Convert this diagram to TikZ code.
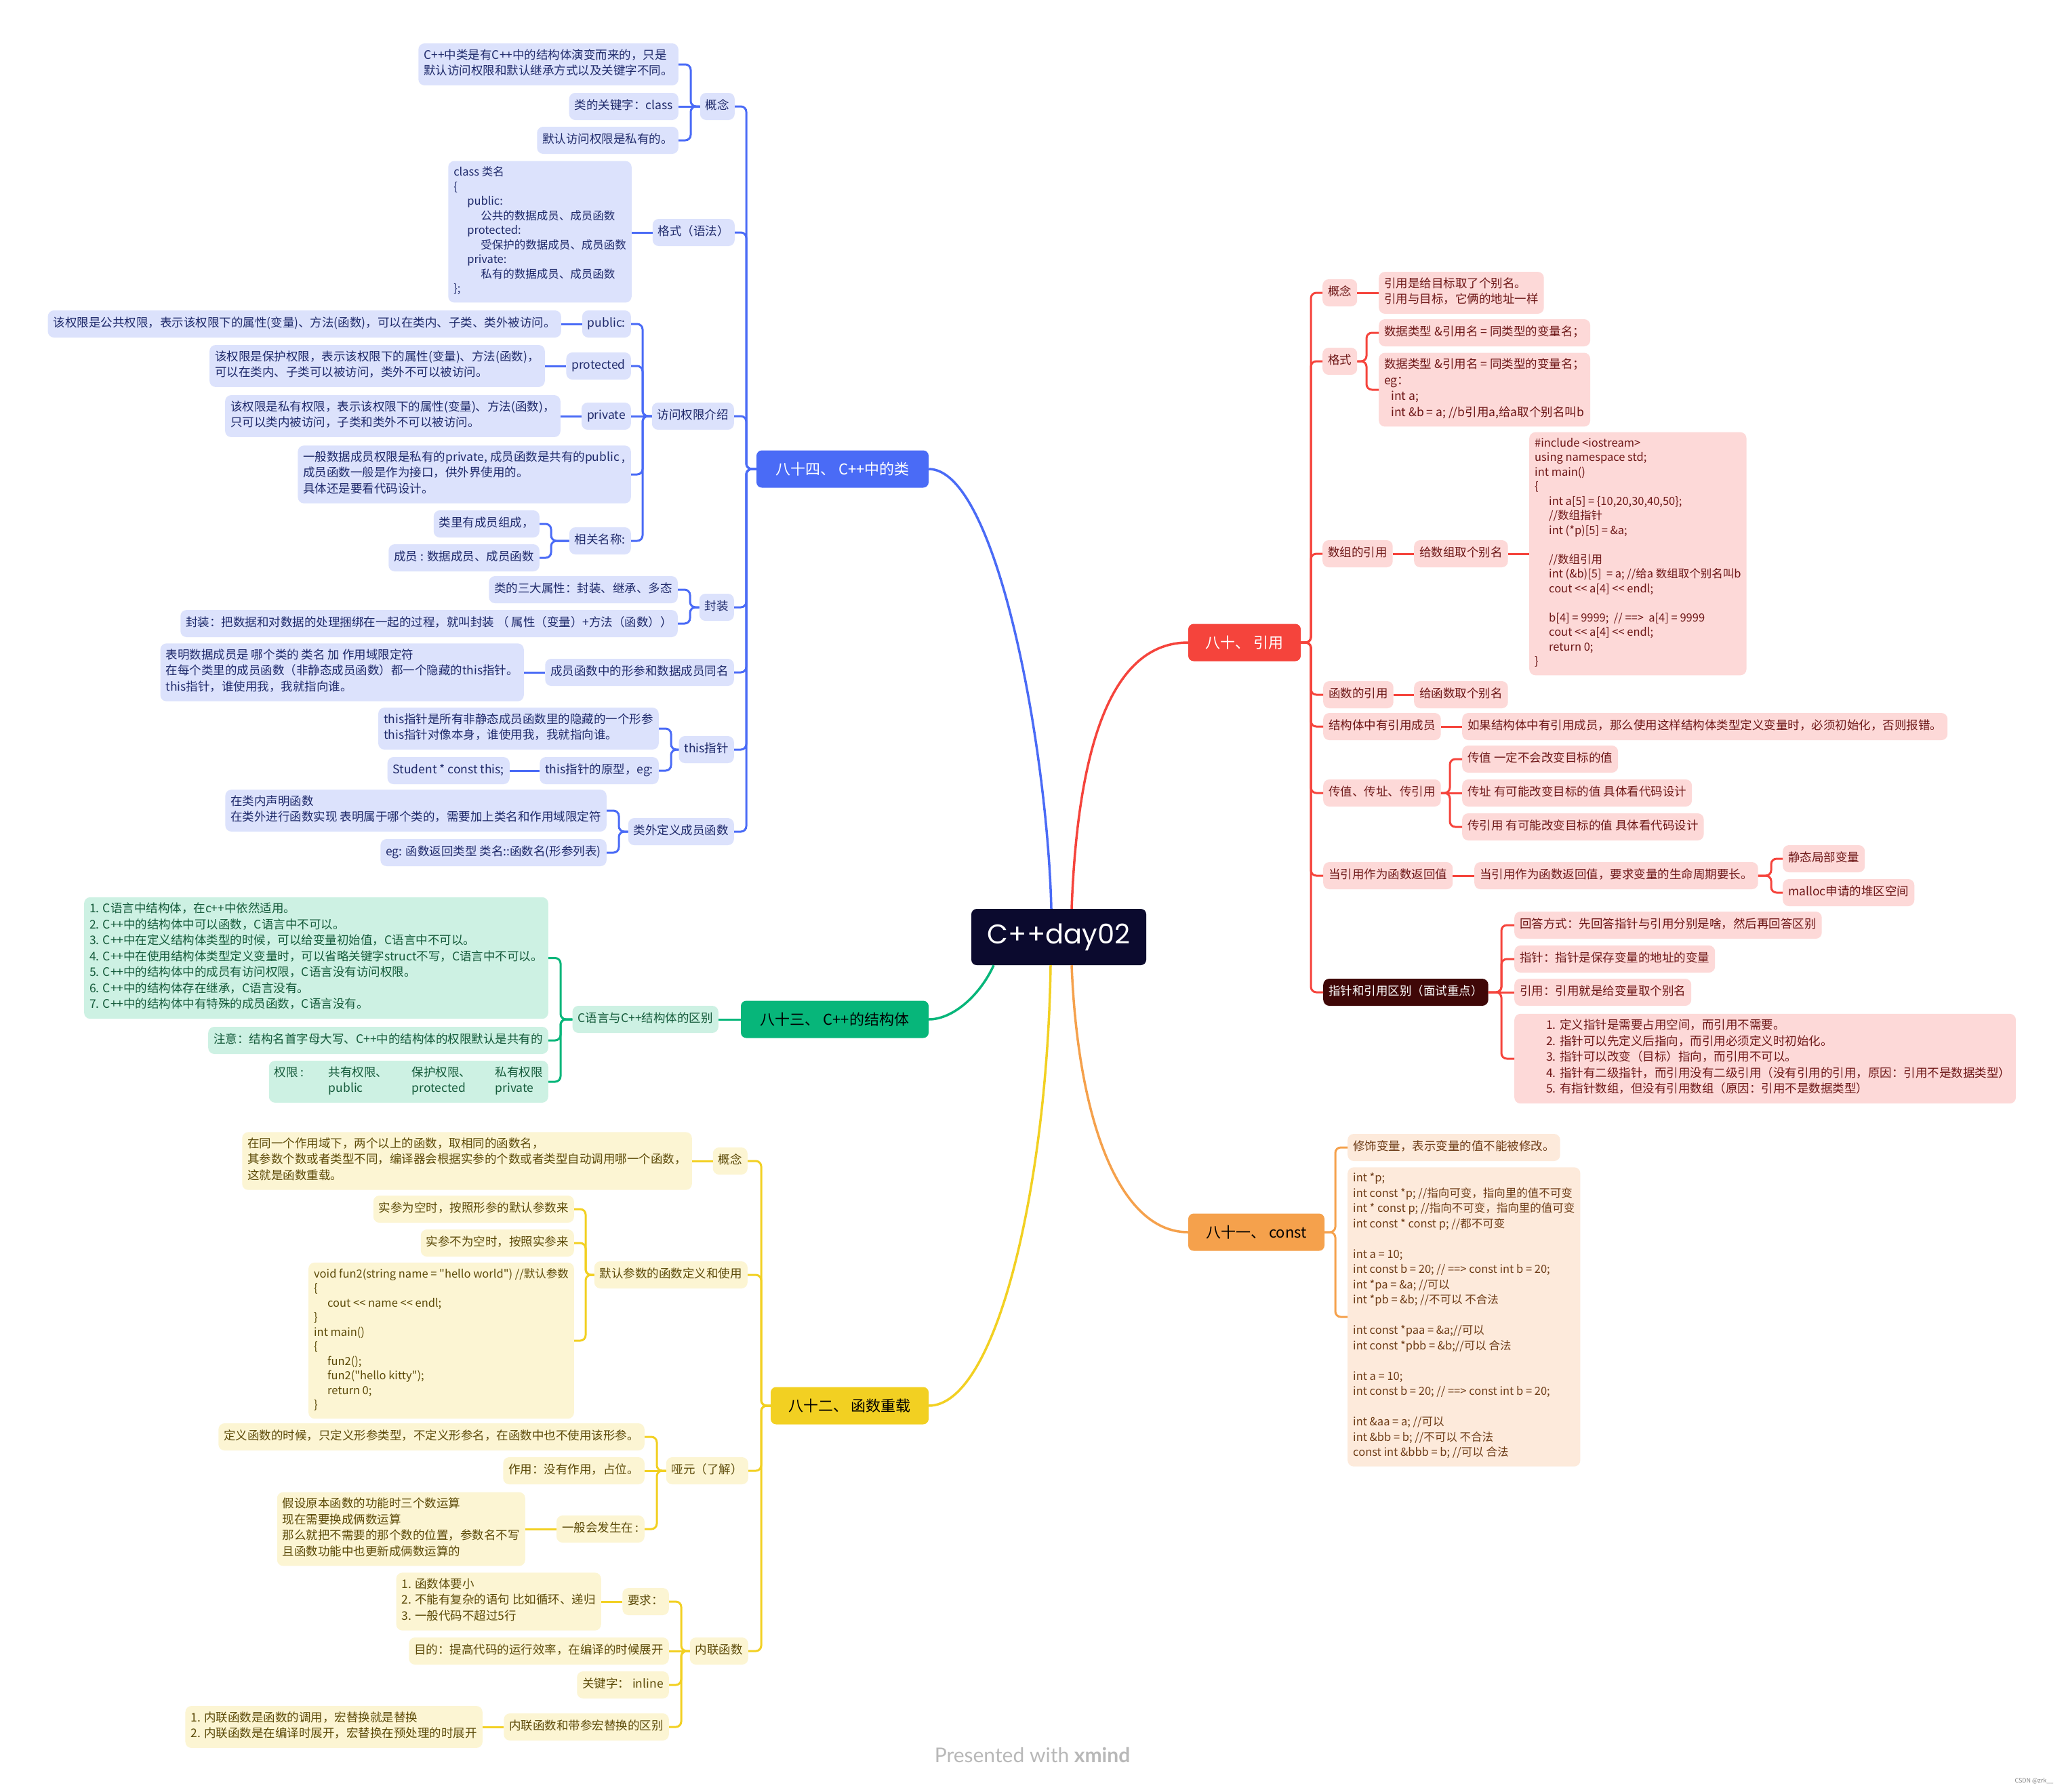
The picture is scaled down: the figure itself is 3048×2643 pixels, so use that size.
\documentclass[tikz,border=0pt]{standalone}
\usepackage{fontspec}
\setmainfont{Noto Sans CJK SC}
\newfontfamily\cjkfont{Noto Sans CJK SC}
\newfontfamily\rootfont{Poppins}
\newfontfamily\wmfont{Lato}
\definecolor{bmain}{HTML}{4A6BF6}
\definecolor{bfill}{HTML}{DCE2FC}
\definecolor{btext}{HTML}{1F2A6B}
\definecolor{gmain}{HTML}{07B67A}
\definecolor{gfill}{HTML}{CDF1E3}
\definecolor{gtext}{HTML}{145A3A}
\definecolor{ymain}{HTML}{F2D022}
\definecolor{yfill}{HTML}{FCF5D3}
\definecolor{ytext}{HTML}{5C4A08}
\definecolor{rmain}{HTML}{F5443C}
\definecolor{rfill}{HTML}{FDD9D8}
\definecolor{rtext}{HTML}{6E1717}
\definecolor{omain}{HTML}{F5A14C}
\definecolor{ofill}{HTML}{FDEADB}
\definecolor{otext}{HTML}{6E3C17}
\definecolor{rootc}{HTML}{0B0A2E}
\definecolor{zzdark}{HTML}{3F0707}
\newcommand\Lcon[4]{\draw[#1] (#2.west) -- (#3,0 |- #2.west) |- (#4.east);}
\newcommand\Rcon[4]{\draw[#1] (#2.east) -- (#3,0 |- #2.east) |- (#4.west);}
\newcommand\Lstr[3]{\draw[#1] (#2.west) -- (#3.east |- #2.west);}
\newcommand\Rstr[3]{\draw[#1] (#2.east) -- (#3.west |- #2.east);}
\begin{document}
\begin{tikzpicture}[x=1pt,y=-1pt,
  box/.style={rounded corners=9pt, inner xsep=8pt, inner ysep=8.25pt, align=left,
    font=\cjkfont\fontsize{17.5}{23.5}\selectfont, execute at begin node=\strut, execute at end node=\strut},
  bb/.style={box, fill=bfill, text=btext},
  gb/.style={box, fill=gfill, text=gtext},
  yb/.style={box, fill=yfill, text=ytext},
  rb/.style={box, fill=rfill, text=rtext},
  ob/.style={box, fill=ofill, text=otext},
  code/.style={font=\cjkfont\fontsize{16.5}{21.5}\selectfont},
  codeb/.style={font=\cjkfont\fontsize{16.5}{22.5}\selectfont},
  mbox/.style={rounded corners=8pt, minimum height=55pt, inner sep=0pt, font=\cjkfont\fontsize{22}{26}\selectfont},
  bl/.style={draw=bmain, line width=3pt, rounded corners=8pt},
  gl/.style={draw=gmain, line width=3pt, rounded corners=8pt},
  yl/.style={draw=ymain, line width=3pt, rounded corners=8pt},
  rl/.style={draw=rmain, line width=3pt, rounded corners=8pt},
  ol/.style={draw=omain, line width=3pt, rounded corners=8pt},
  curve/.style={line width=3.5pt}
]
\useasboundingbox[fill=white] (0,0) rectangle (3048,2643);

% ---------------- root
\node[fill=rootc, rounded corners=8pt, minimum width=258pt, minimum height=83pt, inner sep=0pt,
  text=white, font=\rootfont\fontsize{40}{44}\selectfont] (root) at (1562,1382.5) {C++day02};

% ---------------- main branches
\node[mbox, fill=bmain, text=white, minimum width=254pt] (b84) at (1243,692) {八十四、 C++中的类};
\node[mbox, fill=gmain, text=black, minimum width=277pt] (g83) at (1231.5,1504) {八十三、 C++的结构体};
\node[mbox, fill=ymain, text=black, minimum width=233pt] (y82) at (1253.5,2074) {八十二、 函数重载};
\node[mbox, fill=rmain, text=white, minimum width=166pt] (r80) at (1836,948) {八十、 引用};
\node[mbox, fill=omain, text=black, minimum width=201pt] (o81) at (1853.5,1818) {八十一、 const};

\draw[curve, bmain] (b84.east) .. controls (1470,692) and (1545,1100) .. (1551,0 |- root.north);
\draw[curve, rmain] (1581,0 |- root.north) .. controls (1590,1100) and (1640,948) .. (r80.west);
\draw[curve, gmain] (1466,0 |- root.south) .. controls (1445,1470) and (1405,1504) .. (g83.east);
\draw[curve, ymain] (1550,0 |- root.south) .. controls (1545,1750) and (1470,2074) .. (y82.east);
\draw[curve, omain] (1581,0 |- root.south) .. controls (1590,1650) and (1650,1818) .. (o81.west);

% ---------------- blue branch
\node[bb, anchor=east] (bgn) at (1084,157) {概念};
\node[bb, anchor=east] (bgn1) at (1001,95) {C++中类是有C++中的结构体演变而来的，只是\\默认访问权限和默认继承方式以及关键字不同。};
\node[bb, anchor=east] (bgn2) at (1001,157) {类的关键字：class};
\node[bb, anchor=east] (bgn3) at (1001,207) {默认访问权限是私有的。};
\node[bb, anchor=east] (bgs) at (1084,343) {格式（语法）};
\node[bb, code, anchor=east] (bgs1) at (932,342) {class 类名\\\{\\\hspace*{20pt}public:\\\hspace*{40pt}公共的数据成员、成员函数\\\hspace*{20pt}protected:\\\hspace*{40pt}受保护的数据成员、成员函数\\\hspace*{20pt}private:\\\hspace*{40pt}私有的数据成员、成员函数\\\};};
\node[bb, anchor=east] (bfw) at (1083,614) {访问权限介绍};
\node[bb, anchor=east] (bpub) at (931,478) {public:};
\node[bb, anchor=east] (bpub1) at (828,478) {该权限是公共权限，表示该权限下的属性(变量)、方法(函数)，可以在类内、子类、类外被访问。};
\node[bb, anchor=east] (bpro) at (931,540) {protected};
\node[bb, anchor=east] (bpro1) at (804,540) {该权限是保护权限，表示该权限下的属性(变量)、方法(函数)，\\可以在类内、子类可以被访问，类外不可以被访问。};
\node[bb, anchor=east] (bpri) at (931,614) {private};
\node[bb, anchor=east] (bpri1) at (827,614) {该权限是私有权限，表示该权限下的属性(变量)、方法(函数)，\\只可以类内被访问，子类和类外不可以被访问。};
\node[bb, anchor=east] (bgen) at (931,700) {一般数据成员权限是私有的private, 成员函数是共有的public ,\\成员函数一般是作为接口，供外界使用的。\\具体还是要看代码设计。};
\node[bb, anchor=east] (bxg) at (931,798) {相关名称:};
\node[bb, anchor=east] (bxg1) at (796,773) {类里有成员组成，};
\node[bb, anchor=east] (bxg2) at (796,823) {成员 : 数据成员、成员函数};
\node[bb, anchor=east] (bfz) at (1083,896) {封装};
\node[bb, anchor=east] (bfz1) at (1000,870) {类的三大属性：封装、继承、多态};
\node[bb, anchor=east] (bfz2) at (1000,920) {封装：把数据和对数据的处理捆绑在一起的过程，就叫封装 （ 属性（变量）+方法（函数））};
\node[bb, anchor=east] (btm) at (1083,992) {成员函数中的形参和数据成员同名};
\node[bb, anchor=east] (btm1) at (773,992) {表明数据成员是 哪个类的 类名 加 作用域限定符\\在每个类里的成员函数（非静态成员函数）都一个隐藏的this指针。\\this指针，谁使用我，我就指向谁。};
\node[bb, anchor=east] (bth) at (1083,1106) {this指针};
\node[bb, anchor=east] (bth1) at (972,1075) {this指针是所有非静态成员函数里的隐藏的一个形参\\this指针对像本身，谁使用我，我就指向谁。};
\node[bb, anchor=east] (bth2) at (972,1137) {this指针的原型，eg:};
\node[bb, anchor=east] (bth3) at (752,1137) {Student * const this;};
\node[bb, anchor=east] (blw) at (1083,1227) {类外定义成员函数};
\node[bb, anchor=east] (blw1) at (895,1196) {在类内声明函数\\在类外进行函数实现 表明属于哪个类的，需要加上类名和作用域限定符};
\node[bb, anchor=east] (blw2) at (895,1258) {eg: 函数返回类型 类名::函数名(形参列表)};

\foreach \c in {bgn,bgs,bfw,bfz,btm,bth,blw} {\Lcon{bl}{b84}{1101}{\c}}
\Lcon{bl}{bgn}{1019}{bgn1}
\Lstr{bl}{bgn}{bgn2}
\Lcon{bl}{bgn}{1019}{bgn3}
\Lstr{bl}{bgs}{bgs1}
\Lcon{bl}{bfw}{948}{bpub}
\Lcon{bl}{bfw}{948}{bpro}
\Lstr{bl}{bfw}{bpri}
\Lcon{bl}{bfw}{948}{bgen}
\Lcon{bl}{bfw}{948}{bxg}
\Lstr{bl}{bpub}{bpub1}
\Lstr{bl}{bpro}{bpro1}
\Lstr{bl}{bpri}{bpri1}
\Lcon{bl}{bxg}{813}{bxg1}
\Lcon{bl}{bxg}{813}{bxg2}
\Lcon{bl}{bfz}{1018}{bfz1}
\Lcon{bl}{bfz}{1018}{bfz2}
\Lstr{bl}{btm}{btm1}
\Lcon{bl}{bth}{990}{bth1}
\Lcon{bl}{bth}{990}{bth2}
\Lstr{bl}{bth2}{bth3}
\Lcon{bl}{blw}{913}{blw1}
\Lcon{bl}{blw}{913}{blw2}

% ---------------- green branch
\node[gb, anchor=east] (gqb) at (1060,1504) {C语言与C++结构体的区别};
\node[gb, anchor=east] (g1) at (809,1413.5) {1. C语言中结构体，在c++中依然适用。\\2. C++中的结构体中可以函数，C语言中不可以。\\3. C++中在定义结构体类型的时候，可以给变量初始值，C语言中不可以。\\4. C++中在使用结构体类型定义变量时，可以省略关键字struct不写，C语言中不可以。\\5. C++中的结构体中的成员有访问权限，C语言没有访问权限。\\6. C++中的结构体存在继承，C语言没有。\\7. C++中的结构体中有特殊的成员函数，C语言没有。};
\node[gb, anchor=east] (g2) at (809,1535) {注意：结构名首字母大写、C++中的结构体的权限默认是共有的};
\node[gb, anchor=east] (g3) at (809,1596) {\makebox[80pt][l]{权限 :}\makebox[123pt][l]{共有权限、}\makebox[123pt][l]{保护权限、}私有权限\\\makebox[80pt]{}\makebox[123pt][l]{public}\makebox[123pt][l]{protected}private};
\Lstr{gl}{g83}{gqb}
\Lcon{gl}{gqb}{827}{g1}
\Lcon{gl}{gqb}{827}{g2}
\Lcon{gl}{gqb}{827}{g3}

% ---------------- yellow branch
\node[yb, anchor=east] (ygn) at (1103,1713) {概念};
\node[yb, anchor=east] (ygn1) at (1021,1713) {在同一个作用域下，两个以上的函数，取相同的函数名，\\其参数个数或者类型不同，编译器会根据实参的个数或者类型自动调用哪一个函数，\\这就是函数重载。};
\node[yb, anchor=east] (ymr) at (1103,1881) {默认参数的函数定义和使用};
\node[yb, anchor=east] (ymr1) at (847,1784) {实参为空时，按照形参的默认参数来};
\node[yb, anchor=east] (ymr2) at (847,1834) {实参不为空时，按照实参来};
\node[yb, code, anchor=east] (ymr3) at (847,1978) {void fun2(string name = "hello world") //默认参数\\\{\\\hspace*{20pt}cout <\kern0pt< name <\kern0pt< endl;\\\}\\int main()\\\{\\\hspace*{20pt}fun2();\\\hspace*{20pt}fun2("hello kitty");\\\hspace*{20pt}return 0;\\\}};
\node[yb, anchor=east] (yya) at (1104,2170) {哑元（了解）};
\node[yb, anchor=east] (yya1) at (951,2120) {定义函数的时候，只定义形参类型，不定义形参名，在函数中也不使用该形参。};
\node[yb, anchor=east] (yya2) at (951,2170) {作用：没有作用，占位。};
\node[yb, anchor=east] (yya3) at (951,2256) {一般会发生在 :};
\node[yb, anchor=east] (yya4) at (775,2256) {假设原本函数的功能时三个数运算\\现在需要换成俩数运算\\那么就把不需要的那个数的位置，参数名不写\\且函数功能中也更新成俩数运算的};
\node[yb, anchor=east] (ynl) at (1104,2436) {内联函数};
\node[yb, anchor=east] (ynl1) at (987,2363) {要求：};
\node[yb, anchor=east] (ynl1a) at (887,2363) {1. 函数体要小\\2. 不能有复杂的语句 比如循环、递归\\3. 一般代码不超过5行};
\node[yb, anchor=east] (ynl2) at (987,2436) {目的：提高代码的运行效率，在编译的时候展开};
\node[yb, anchor=east] (ynl3) at (987,2486) {关键字： inline};
\node[yb, anchor=east] (ynl4) at (987,2548) {内联函数和带参宏替换的区别};
\node[yb, anchor=east] (ynl4a) at (712,2548) {1. 内联函数是函数的调用，宏替换就是替换\\2. 内联函数是在编译时展开，宏替换在预处理的时展开};

\foreach \c in {ygn,ymr,yya,ynl} {\Lcon{yl}{y82}{1123}{\c}}
\Lstr{yl}{ygn}{ygn1}
\Lcon{yl}{ymr}{864}{ymr1}
\Lcon{yl}{ymr}{864}{ymr2}
\Lcon{yl}{ymr}{864}{ymr3}
\Lcon{yl}{yya}{969}{yya1}
\Lstr{yl}{yya}{yya2}
\Lcon{yl}{yya}{969}{yya3}
\Lstr{yl}{yya3}{yya4}
\Lcon{yl}{ynl}{1005}{ynl1}
\Lstr{yl}{ynl}{ynl2}
\Lcon{yl}{ynl}{1005}{ynl3}
\Lcon{yl}{ynl}{1005}{ynl4}
\Lstr{yl}{ynl1}{ynl1a}
\Lstr{yl}{ynl4}{ynl4a}

% ---------------- red branch
\node[rb, anchor=west] (rgn) at (1951,432) {概念};
\node[rb, anchor=west] (rgn1) at (2034,432) {引用是给目标取了个别名。\\引用与目标，它俩的地址一样};
\node[rb, anchor=west] (rgs) at (1951,533) {格式};
\node[rb, anchor=west] (rgs1) at (2034,491) {数据类型 \&引用名 = 同类型的变量名；};
\node[rb, anchor=west] (rgs2) at (2034,575) {数据类型 \&引用名 = 同类型的变量名；\\eg：\\\hspace*{10pt}int a;\\\hspace*{10pt}int \&b = a; //b引用a,给a取个别名叫b};
\node[rb, anchor=west] (rsz) at (1951,817) {数组的引用};
\node[rb, anchor=west] (rsz1) at (2086,817) {给数组取个别名};
\node[rb, code, anchor=west] (rsz2) at (2256,817) {\#include <iostream>\\using namespace std;\\int main()\\\{\\\hspace*{21pt}int a[5] = \{10,20,30,40,50\};\\\hspace*{21pt}//数组指针\\\hspace*{21pt}int (*p)[5] = \&a;\\\mbox{}\\\hspace*{21pt}//数组引用\\\hspace*{21pt}int (\&b)[5] \ = a; //给a 数组取个别名叫b\\\hspace*{21pt}cout <\kern0pt< a[4] <\kern0pt< endl;\\\mbox{}\\\hspace*{21pt}b[4] = 9999; \ // ==> \ a[4] = 9999\\\hspace*{21pt}cout <\kern0pt< a[4] <\kern0pt< endl;\\\hspace*{21pt}return 0;\\\}};
\node[rb, anchor=west] (rhs) at (1952,1025) {函数的引用};
\node[rb, anchor=west] (rhs1) at (2086,1025) {给函数取个别名};
\node[rb, anchor=west] (rjg) at (1952,1072) {结构体中有引用成员};
\node[rb, anchor=west] (rjg1) at (2157,1072) {如果结构体中有引用成员，那么使用这样结构体类型定义变量时，必须初始化，否则报错。};
\node[rb, anchor=west] (rcz) at (1952,1170) {传值、传址、传引用};
\node[rb, anchor=west] (rcz1) at (2157,1120) {传值 一定不会改变目标的值};
\node[rb, anchor=west] (rcz2) at (2157,1170) {传址 有可能改变目标的值 具体看代码设计};
\node[rb, anchor=west] (rcz3) at (2157,1220) {传引用 有可能改变目标的值 具体看代码设计};
\node[rb, anchor=west] (rfh) at (1952,1292) {当引用作为函数返回值};
\node[rb, anchor=west] (rfh1) at (2175,1292) {当引用作为函数返回值，要求变量的生命周期要长。};
\node[rb, anchor=west] (rfh2) at (2630,1267) {静态局部变量};
\node[rb, anchor=west] (rfh3) at (2630,1317) {malloc申请的堆区空间};
\node[box, fill=zzdark, text=white, anchor=west] (rzz) at (1952,1464) {指针和引用区别（面试重点）};
\node[rb, anchor=west] (rzz1) at (2234,1365) {回答方式：先回答指针与引用分别是啥，然后再回答区别};
\node[rb, anchor=west] (rzz2) at (2234,1415) {指针：指针是保存变量的地址的变量};
\node[rb, anchor=west] (rzz3) at (2234,1464) {引用：引用就是给变量取个别名};
\node[rb, anchor=west] (rzz4) at (2234,1562) {\hspace*{39pt}1. 定义指针是需要占用空间，而引用不需要。\\\hspace*{39pt}2. 指针可以先定义后指向，而引用必须定义时初始化。\\\hspace*{39pt}3. 指针可以改变（目标）指向，而引用不可以。\\\hspace*{39pt}4. 指针有二级指针，而引用没有二级引用（没有引用的引用，原因：引用不是数据类型）\\\hspace*{39pt}5. 有指针数组，但没有引用数组（原因：引用不是数据类型）};

\foreach \c in {rgn,rgs,rsz,rhs,rjg,rcz,rfh,rzz} {\Rcon{rl}{r80}{1934}{\c}}
\Rstr{rl}{rgn}{rgn1}
\Rcon{rl}{rgs}{2016}{rgs1}
\Rcon{rl}{rgs}{2016}{rgs2}
\Rstr{rl}{rsz}{rsz1}
\Rstr{rl}{rsz1}{rsz2}
\Rstr{rl}{rhs}{rhs1}
\Rstr{rl}{rjg}{rjg1}
\Rcon{rl}{rcz}{2139}{rcz1}
\Rstr{rl}{rcz}{rcz2}
\Rcon{rl}{rcz}{2139}{rcz3}
\Rstr{rl}{rfh}{rfh1}
\Rcon{rl}{rfh1}{2613}{rfh2}
\Rcon{rl}{rfh1}{2613}{rfh3}
\Rcon{rl}{rzz}{2215}{rzz1}
\Rcon{rl}{rzz}{2215}{rzz2}
\Rstr{rl}{rzz}{rzz3}
\Rcon{rl}{rzz}{2215}{rzz4}

% ---------------- orange branch
\node[ob, anchor=west] (o1) at (1988,1693) {修饰变量，表示变量的值不能被修改。};
\node[ob, codeb, anchor=west] (o2) at (1988,1943) {int *p;\\int const *p; //指向可变，指向里的值不可变\\int * const p; //指向不可变，指向里的值可变\\int const * const p; //都不可变\\\mbox{}\\int a = 10;\\int const b = 20; // ==> const int b = 20;\\int *pa = \&a; //可以\\int *pb = \&b; //不可以 不合法\\\mbox{}\\int const *paa = \&a;//可以\\int const *pbb = \&b;//可以 合法\\\mbox{}\\int a = 10;\\int const b = 20; // ==> const int b = 20;\\\mbox{}\\int \&aa = a; //可以\\int \&bb = b; //不可以 不合法\\const int \&bbb = b; //可以 合法};
\Rcon{ol}{o81}{1970}{o1}
\Rcon{ol}{o81}{1970}{o2}

% ---------------- watermark
\node[text=black!28, font=\wmfont\fontsize{30}{32}\selectfont] (wm) at (1523,2589) {Presented with \textbf{xmind}};
\node[text=black!50, font=\cjkfont\fontsize{9}{10}\selectfont, anchor=east] (csdn) at (3033,2628) {CSDN @zrk\_\_};
\end{tikzpicture}
\end{document}
